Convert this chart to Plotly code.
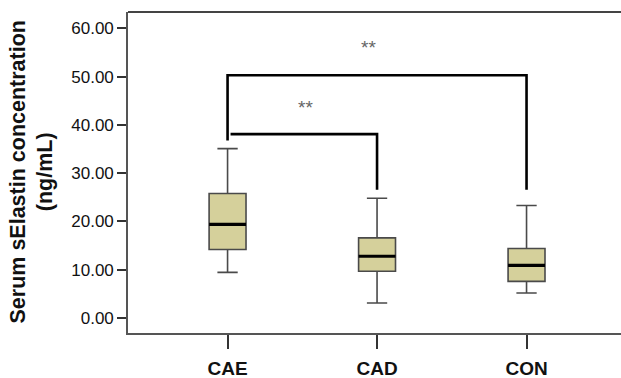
import plotly.graph_objects as go

categories = ["CAE", "CAD", "CON"]
positions = [0, 1, 2]
q1 = [14.2, 9.7, 7.6]
median = [19.4, 12.8, 10.9]
q3 = [25.8, 16.6, 14.4]
lower_whisker = [9.45, 3.1, 5.2]
upper_whisker = [35.1, 24.8, 23.3]

y_tickvals = [0, 10, 20, 30, 40, 50, 60]
y_ticktext = ["0.00", "10.00", "20.00", "30.00", "40.00", "50.00", "60.00"]
y_title = "Serum sElastin concentration<br>(ng/mL)"

# significance brackets: from group index, to group index, top y, left drop end, right drop end
bracket_from = [0, 0]
bracket_to = [1, 2]
bracket_top = [38.1, 50.3]
bracket_left_end = [38.1, 36.8]
bracket_right_end = [26.6, 26.6]
sig_labels = ["**", "**"]
sig_x = [0.52, 0.94]
sig_y = [43.6, 56.0]

box_width = 0.247
fill = "#d5d09b"

fig = go.Figure()
fig.add_trace(go.Box(
    x=positions, q1=q1, median=median, q3=q3,
    lowerfence=lower_whisker, upperfence=upper_whisker,
    width=box_width, whiskerwidth=0.55,
    fillcolor=fill, line=dict(color="#4a4a4a", width=1.6),
    boxpoints=False, showlegend=False, hoverinfo="skip",
))

# median lines (thick black)
for p, m in zip(positions, median):
    fig.add_trace(go.Scatter(
        x=[p - box_width / 2, p + box_width / 2], y=[m, m],
        mode="lines", line=dict(color="#000000", width=3.2),
        showlegend=False, hoverinfo="skip",
    ))

# brackets
for a, b, top, le, re in zip(bracket_from, bracket_to, bracket_top, bracket_left_end, bracket_right_end):
    xa = positions[a] + (0.02 if le == top else 0)
    fig.add_trace(go.Scatter(
        x=[xa, xa, positions[b], positions[b]],
        y=[le, top, top, re],
        mode="lines", line=dict(color="#000000", width=2.6),
        showlegend=False, hoverinfo="skip",
    ))

for sx, sy, t in zip(sig_x, sig_y, sig_labels):
    fig.add_annotation(x=sx, y=sy, text=t, showarrow=False,
                       font=dict(family="Liberation Sans, Arial", size=19, color="#666666"),
                       xanchor="center", yanchor="middle")

# y-axis title as rotated annotation
fig.add_annotation(xref="paper", yref="paper", x=0, y=0.5, xshift=-97,
                   text=y_title, textangle=-90, showarrow=False,
                   xanchor="center", yanchor="middle",
                   font=dict(family="Liberation Sans, Arial", size=21.5, color="#111111", weight="bold"))

# top frame line
fig.add_shape(type="line", xref="paper", yref="paper", x0=0, x1=1, y0=1, y1=1,
              line=dict(color="#444444", width=2))

# the frame continues past the right edge of the window, as in the reference
fig.update_layout(
    width=640, height=378,
    margin=dict(l=128, r=0, t=12, b=45),
    paper_bgcolor="white", plot_bgcolor="white",
    font=dict(family="Liberation Sans, Arial", color="#111111"),
)
fig.update_xaxes(
    range=[-0.666, 2.759], tickvals=positions, ticktext=categories,
    showgrid=False, zeroline=False, automargin=False,
    showline=True, linecolor="#555555", linewidth=1.6,
    ticks="outside", ticklen=14, tickwidth=2, tickcolor="#333333",
    ticklabelstandoff=3,
    tickfont=dict(family="Liberation Sans, Arial", size=19, color="#111111", weight="bold"),
)
fig.update_yaxes(
    range=[-3.1, 63.4], tickvals=y_tickvals, ticktext=y_ticktext,
    showgrid=False, zeroline=False, automargin=False,
    showline=True, linecolor="#555555", linewidth=1.6,
    ticks="outside", ticklen=9, tickwidth=2, tickcolor="#333333",
    tickfont=dict(family="Liberation Sans, Arial", size=17, color="#111111"),
)

fig.write_html("out.html", config={"displayModeBar": False},
               post_script="document.body.style.margin='0';document.body.style.overflow='hidden';")
